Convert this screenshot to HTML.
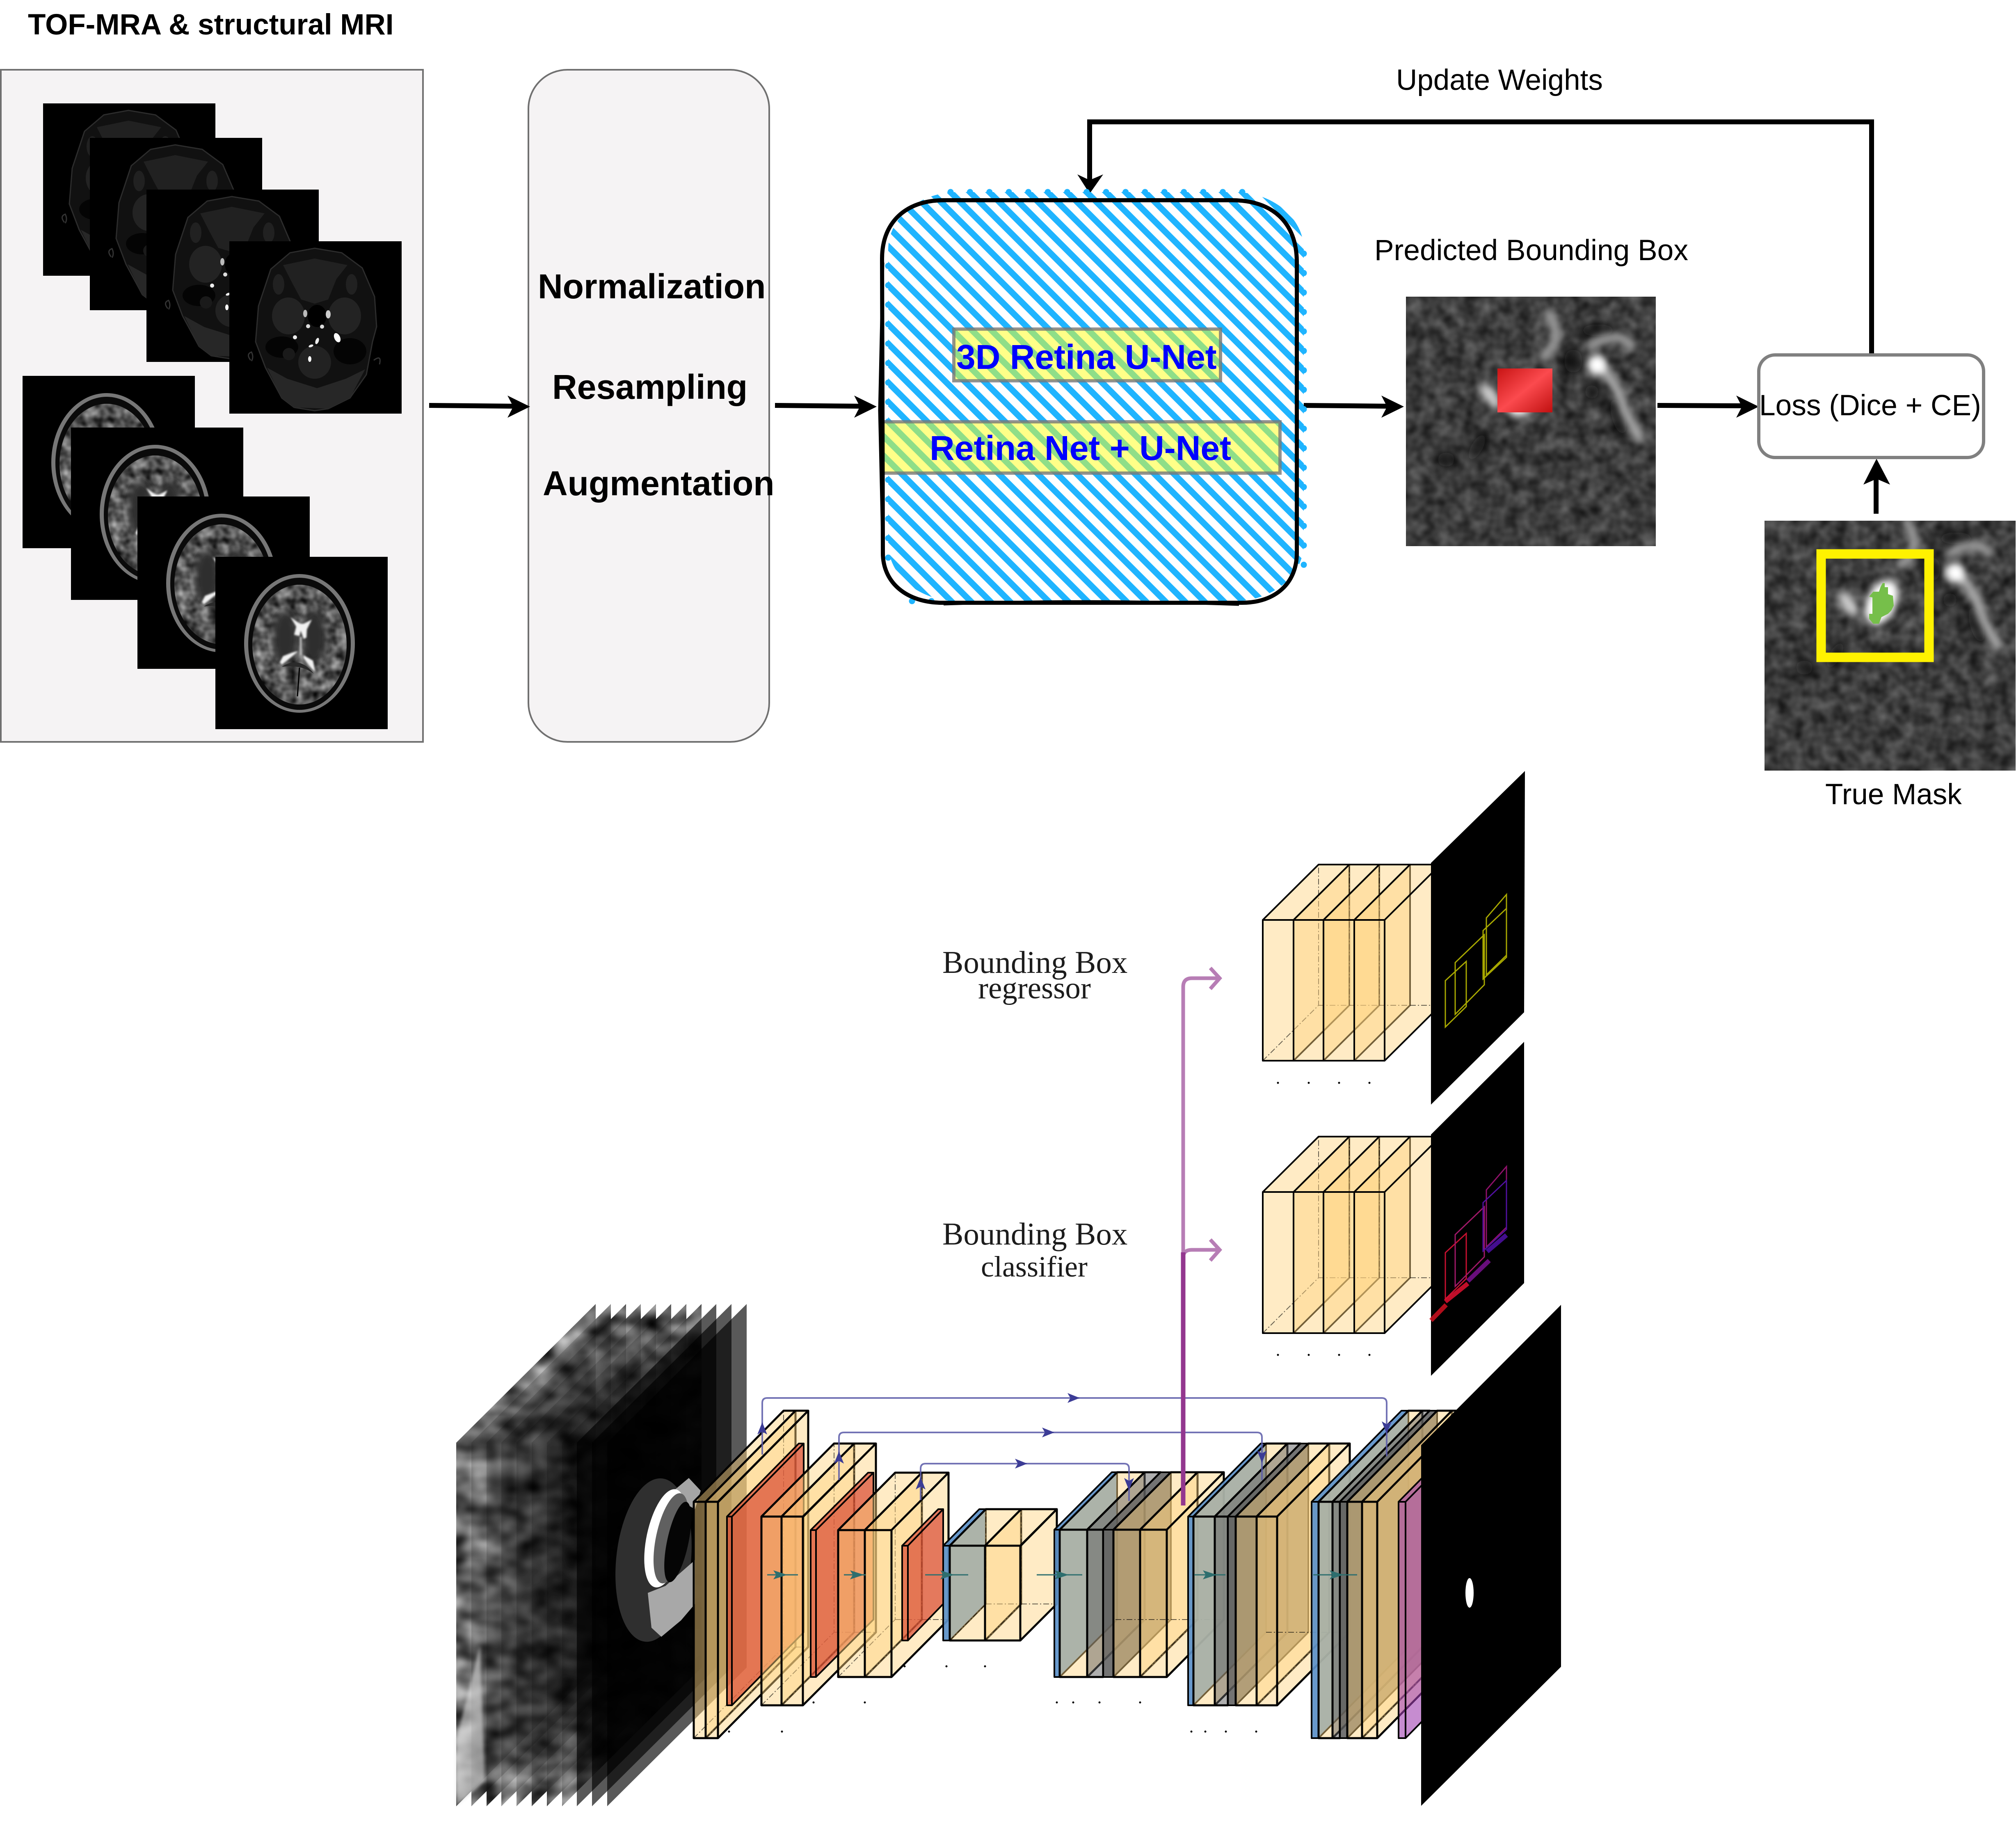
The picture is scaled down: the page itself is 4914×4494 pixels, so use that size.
<!DOCTYPE html>
<html>
<head>
<meta charset="utf-8">
<style>
html,body{margin:0;padding:0;background:#fff}
svg{display:block}
.s{font-family:"Liberation Sans",sans-serif}
.b{font-family:"Liberation Sans",sans-serif;font-weight:bold}
.t{font-family:"Liberation Serif",serif;fill:#1c1c1c}
.c{fill:#ffd27f;fill-opacity:.45;stroke:#000;stroke-width:5;stroke-linejoin:round}
.c3{fill:#ffd27f;fill-opacity:.45;stroke:#000;stroke-width:4;stroke-linejoin:round}
.r{fill:#d84830;fill-opacity:.7;stroke:#000;stroke-width:4;stroke-linejoin:round}
.u{fill:#5b90c8;fill-opacity:.92;stroke:#000;stroke-width:4;stroke-linejoin:round}
.g{fill:#5f5f5f;fill-opacity:.5;stroke:#000;stroke-width:5;stroke-linejoin:round}
.d{fill:#5a5a5a;fill-opacity:.85;stroke:#000;stroke-width:4;stroke-linejoin:round}
.p{fill:#a040b0;fill-opacity:.6;stroke:#000;stroke-width:4;stroke-linejoin:round}
.h{fill:none;stroke:#000;stroke-width:2;stroke-opacity:.6;stroke-dasharray:14 5 3 5}
.sk{fill:none;stroke:#5a5aa8;stroke-opacity:.85;stroke-width:4}
.te{stroke:#2d6e6e;stroke-width:3}
.dot{stroke:#000;stroke-width:5;stroke-linecap:round;fill:none}
</style>
</head>
<body>
<svg xmlns="http://www.w3.org/2000/svg" width="4914" height="4494" viewBox="0 0 4914 4494">
<defs>
  <pattern id="hb" patternUnits="userSpaceOnUse" width="100" height="33.52" patternTransform="rotate(45)">
    <rect width="100" height="33.52" fill="#fff"/>
    <rect width="100" height="7.5" fill="#1fb4ff"/><rect y="26.02" width="100" height="7.5" fill="#1fb4ff"/>
  </pattern>
  <pattern id="hy" patternUnits="userSpaceOnUse" width="100" height="33.52" patternTransform="rotate(45)">
    <rect width="100" height="33.52" fill="#ffff88"/>
    <rect width="100" height="7.5" fill="#8fde88"/><rect y="26.02" width="100" height="7.5" fill="#8fde88"/>
  </pattern>
  <clipPath id="hc"><rect x="2165" y="468" width="1013" height="997" rx="170" ry="140"/></clipPath>
  <clipPath id="cp"><rect x="3427" y="723" width="609" height="608"/></clipPath>
  <clipPath id="ct"><rect x="4301" y="1269" width="612" height="609"/></clipPath>
  <clipPath id="st">
    <polygon points="1112,3516 1452,3178 1452,4064 1112,4402"/>
    <polygon points="1149,3516 1489,3178 1489,4064 1149,4402"/>
    <polygon points="1186,3516 1526,3178 1526,4064 1186,4402"/>
    <polygon points="1222,3516 1562,3178 1562,4064 1222,4402"/>
    <polygon points="1259,3516 1599,3178 1599,4064 1259,4402"/>
    <polygon points="1296,3516 1636,3178 1636,4064 1296,4402"/>
    <polygon points="1333,3516 1673,3178 1673,4064 1333,4402"/>
    <polygon points="1370,3516 1710,3178 1710,4064 1370,4402"/>
  </clipPath>
  <filter id="ns" x="0" y="0" width="1" height="1" color-interpolation-filters="sRGB">
    <feTurbulence type="fractalNoise" baseFrequency=".03" numOctaves="2" seed="5"/>
    <feColorMatrix values=".4 0 0 0 .04  .4 0 0 0 .04  .4 0 0 0 .04  0 0 0 0 1"/>
  </filter>
  <filter id="ns2" x="0" y="0" width="1" height="1" color-interpolation-filters="sRGB">
    <feTurbulence type="fractalNoise" baseFrequency=".014 .02" numOctaves="2" seed="9"/>
    <feColorMatrix values="1.3 0 0 0 -.15  1.3 0 0 0 -.15  1.3 0 0 0 -.15  0 0 0 0 1"/>
  </filter>
  <filter id="br" x="0" y="0" width="1" height="1" color-interpolation-filters="sRGB">
    <feTurbulence type="fractalNoise" baseFrequency=".04" numOctaves="2" seed="3"/>
    <feColorMatrix values=".9 0 0 0 -.1  .9 0 0 0 -.1  .9 0 0 0 -.1  0 0 0 0 1"/>
    <feComposite in2="SourceGraphic" operator="in"/>
  </filter>
  <filter id="b9" x="-50%" y="-50%" width="200%" height="200%"><feGaussianBlur stdDeviation="9"/></filter>
  <filter id="b4"><feGaussianBlur stdDeviation="4"/></filter>
  <filter id="b2"><feGaussianBlur stdDeviation="2"/></filter>
  <filter id="b14" x="-30%" y="-30%" width="160%" height="160%"><feGaussianBlur stdDeviation="14"/></filter>

  <g id="tof">
    <rect width="420" height="420" fill="#000"/>
    <path d="M208 17 L274 28 L324 65 L354 135 L359 208 L349 245 L334 325 L294 382 L241 408 L208 413 L158 405 L128 382 L88 308 L64 245 L71 158 L101 68 L148 28Z" fill="#111" stroke="#2c2c2c" stroke-width="3"/>
    <path d="M131 58 L208 42 L288 58 L261 92 L241 142 L208 152 L175 142 L155 105Z" fill="#212121"/>
    <ellipse cx="120" cy="105" rx="14" ry="25" fill="#212121"/><ellipse cx="298" cy="105" rx="14" ry="25" fill="#212121"/>
    <ellipse cx="144" cy="182" rx="40" ry="45" fill="#232323"/><ellipse cx="281" cy="182" rx="40" ry="45" fill="#232323"/>
    <ellipse cx="128" cy="258" rx="40" ry="26" fill="#040404"/><ellipse cx="294" cy="268" rx="40" ry="32" fill="#040404"/>
    <ellipse cx="208" cy="295" rx="40" ry="40" fill="#222"/>
    <ellipse cx="145" cy="275" rx="15" ry="15" fill="#1a1a1a"/>
    <path d="M92 308 L141 335 L214 358 L284 335 L331 312 L294 382 L241 408 L158 405 L128 382Z" fill="#272727"/>
    <ellipse cx="214" cy="182" rx="23" ry="27" fill="#000"/>
    <path d="M52 290 q-12 -15 2 -20 q6 12 0 22 M352 290 q20 -15 14 10" fill="none" stroke="#333" stroke-width="3"/>
    <ellipse cx="185" cy="176" rx="5" ry="9" fill="#bbb"/><ellipse cx="241" cy="178" rx="6" ry="10" fill="#ccc"/>
    <circle cx="192" cy="207" r="5" fill="#ddd"/><circle cx="226" cy="208" r="5" fill="#ddd"/>
    <circle cx="160" cy="234" r="5" fill="#eee"/><ellipse cx="263" cy="235" rx="7" ry="12" transform="rotate(-25 263 235)" fill="#fff"/>
    <ellipse cx="214" cy="243" rx="4" ry="8" transform="rotate(20 214 243)" fill="#eee"/>
    <ellipse cx="199" cy="255" rx="6" ry="3" transform="rotate(-20 199 255)" fill="#eee"/>
    <ellipse cx="196" cy="287" rx="4" ry="7" fill="#fff"/>
  </g>

  <g id="t2">
    <rect width="420" height="420" fill="#000"/>
    <ellipse cx="205" cy="211" rx="135" ry="169" fill="#777"/>
    <ellipse cx="205" cy="212" rx="125" ry="161" fill="#0a0a0a"/>
    <ellipse cx="205" cy="214" rx="115" ry="146" fill="#5a5a5a" filter="url(#br)"/>
    <g filter="url(#b9)"><ellipse cx="170" cy="195" rx="30" ry="65" fill="#2e2e2e"/><ellipse cx="240" cy="195" rx="30" ry="65" fill="#2e2e2e"/></g>
    <g filter="url(#b2)" fill="#f2f2f2">
      <polygon points="183,147 202,160 208,163 215,163 235,153 223,177 222,197 215,200 208,180 205,193 192,190 197,170"/>
      <polygon points="202,230 188,242 162,263 157,257 165,242 188,233"/>
      <polygon points="215,240 238,253 243,280 235,273 215,247"/>
      <path d="M208 195 V240" stroke="#bbb" stroke-width="5" fill="none"/>
    </g>
    <path d="M162 268 Q205 240 240 285 Q210 262 162 268Z" fill="#2a2a2a"/>
    <path d="M205 270 L200 340" stroke="#000" stroke-width="3"/>
  </g>

  <g id="ves">
    <g filter="url(#b14)" fill="#0e0e0e">
      <ellipse cx="3895" cy="805" rx="45" ry="15"/><ellipse cx="3835" cy="880" rx="22" ry="30"/>
      <ellipse cx="3945" cy="1015" rx="16" ry="50" transform="rotate(-15 3945 1015)"/><ellipse cx="3880" cy="955" rx="18" ry="18"/>
      <ellipse cx="3525" cy="1120" rx="22" ry="18"/><ellipse cx="3600" cy="1090" rx="14" ry="40" transform="rotate(30 3600 1090)"/>
    </g>
    <g filter="url(#b9)" fill="none" stroke-linecap="round">
      <path d="M3775 765 Q3815 830 3762 868" stroke="#9a9a9a" stroke-width="24"/>
      <path d="M3905 898 Q3945 940 3960 1000 L3995 1066" stroke="#aaa" stroke-width="24"/>
      <path d="M3880 842 Q3920 815 3960 826 L3975 842" stroke="#999" stroke-width="24"/>
      <circle cx="3893" cy="889" r="24" fill="#fff"/>
      <ellipse cx="3713" cy="961" rx="36" ry="58" transform="rotate(25 3713 961)" fill="#fff"/>
      <ellipse cx="3633" cy="965" rx="16" ry="36" transform="rotate(-35 3633 965)" fill="#ccc"/>
    </g>
  </g>
  <linearGradient id="rd" x1="0" y1="0" x2="1" y2="1">
    <stop offset="0" stop-color="#c81414"/><stop offset=".5" stop-color="#fb4a4e"/><stop offset="1" stop-color="#c01010"/>
  </linearGradient>
  <polygon id="sh" points="16,0 -14,-12 -7,0 -14,12" fill="#3c3c96"/>
  <polygon id="th" points="20,0 -14,-11 -7,0 -14,11" fill="#2d6e6e"/>
</defs>

<rect width="4914" height="4494" fill="#fff"/>

<text class="b" x="68" y="84" font-size="71">TOF-MRA &amp; structural MRI</text>

<rect x="2" y="170" width="1029" height="1638" fill="#f5f3f4" stroke="#707070" stroke-width="4"/>
<use href="#tof" x="105" y="252"/><use href="#tof" x="219" y="336"/><use href="#tof" x="357" y="462"/><use href="#tof" x="559" y="588"/>
<use href="#t2" x="55" y="916"/><use href="#t2" x="173" y="1042"/><use href="#t2" x="335" y="1210"/><use href="#t2" x="525" y="1357"/>

<rect x="1288" y="170" width="587" height="1638" rx="95" ry="95" fill="#f5f3f4" stroke="#707070" stroke-width="4"/>
<text class="b" x="1311" y="727" font-size="84">Normalization</text>
<text class="b" x="1346" y="972" font-size="84">Resampling</text>
<text class="b" x="1323" y="1207" font-size="84">Augmentation</text>

<g fill="none" stroke="#000" stroke-width="12">
  <path d="M1046 988 L1260 990"/><path d="M1889 988 L2105 990"/><path d="M3176 988 L3390 990"/><path d="M4040 988 L4255 989"/>
  <path d="M4573 1252 V1150"/>
  <path d="M4562 865 V297 H2656 V440"/>
</g>
<g fill="#000">
  <polygon points="1292,991 1237,964 1251,991 1237,1018"/>
  <polygon points="2137,991 2082,964 2096,991 2082,1018"/>
  <polygon points="3422,991 3367,964 3381,991 3367,1018"/>
  <polygon points="4287,991 4232,964 4246,991 4232,1018"/>
  <polygon points="4574,1118 4542,1181 4574,1167 4607,1181"/>
  <polygon points="2656,472 2626,425 2656,439 2689,425"/>
</g>

<!-- hatched box -->
<rect x="2100" y="440" width="1120" height="1060" fill="url(#hb)" clip-path="url(#hc)"/>
<g fill="none" stroke="#1fb4ff" stroke-width="15" stroke-linecap="round">
  <path d="M2317 468 H3040" stroke-dasharray="0.01 47.39"/>
  <path d="M2165 648 V1370" stroke-dasharray="0.01 47.39"/>
  <path d="M3178 618 V1380" stroke-dasharray="0.01 47.39"/>
  <path d="M2223 1465 H2990" stroke-dasharray="0.01 47.39"/>
</g>
<rect x="2325" y="802" width="650" height="126" fill="url(#hy)" stroke="#777" stroke-opacity=".8" stroke-width="8"/>
<rect x="2152" y="1028" width="968" height="125" fill="url(#hy)" stroke="#777" stroke-opacity=".8" stroke-width="8"/>
<path d="M2150 630 C2150 540 2210 488 2300 488 H3003 C3100 488 3161 540 3161 640 V1348 C3161 1420 3110 1469 3027 1469 H2297 C2210 1469 2152 1420 2152 1348 Z" fill="none" stroke="#000" stroke-width="10"/>
<path d="M2152 640 L2144 1000 L2152 1350 M2300 1472 Q2650 1460 3020 1473" fill="none" stroke="#000" stroke-width="7"/>
<text class="b" x="2331" y="899" font-size="84" fill="#0000ff">3D Retina U-Net</text>
<text class="b" x="2266" y="1121" font-size="84" fill="#0000ff">Retina Net + U-Net</text>

<text class="s" x="3403" y="219" font-size="71">Update Weights</text>
<text class="s" x="3350" y="634" font-size="71.3">Predicted Bounding Box</text>
<text class="s" x="4449" y="1960" font-size="71">True Mask</text>

<!-- prediction image -->
<g clip-path="url(#cp)">
  <rect x="3427" y="723" width="609" height="608" filter="url(#ns)"/>
  <use href="#ves"/>
</g>
<rect x="3650" y="898" width="134" height="107" fill="url(#rd)"/>

<!-- ground truth image -->
<g clip-path="url(#ct)">
  <rect x="4301" y="1269" width="613" height="611" filter="url(#ns)"/>
  <use href="#ves" transform="translate(873,507)"/>
</g>
<polygon fill="#76bf4a" points="4589,1421 4594,1421 4594,1431 4602,1431 4602,1448 4614,1452 4616,1476 4610,1488 4602,1496 4586,1504 4580,1520 4566,1520 4556,1508 4556,1496 4564,1496 4564,1456 4556,1454 4566,1442 4580,1442 4584,1430"/>
<rect x="4439" y="1350" width="263" height="252" fill="none" stroke="#fff200" stroke-width="23"/>

<rect x="4287" y="865" width="548" height="250" rx="40" ry="40" fill="#fff" stroke="#808080" stroke-width="8"/>
<text class="s" x="4288" y="1012" font-size="71.3">Loss (Dice + CE)</text>

<!-- labels lower -->
<text class="t" x="2297" y="2371" font-size="77">Bounding Box</text>
<text class="t" x="2384" y="2433" font-size="75">regressor</text>
<text class="t" x="2391" y="3111" font-size="72">classifier</text>
<text class="t" x="2297" y="3033" font-size="77">Bounding Box</text>

<!-- cubes 1 -->
<g>
  <path class="c3" d="M3078 2242 H3153 V2585 H3078 Z M3078 2242 l136 -135 h75 l-136 135 Z M3153 2242 l136 -135 v343 l-136 135 Z"/>
  <path class="h" d="M3078 2585 l136 -135 v-343 M3214 2450 h75"/>
  <path class="c3" d="M3153 2242 H3226 V2585 H3153 Z M3153 2242 l136 -135 h73 l-136 135 Z M3226 2242 l136 -135 v343 l-136 135 Z"/>
  <path class="h" d="M3289 2450 v-343 M3289 2450 h73"/>
  <path class="c3" d="M3226 2242 H3301 V2585 H3226 Z M3226 2242 l136 -135 h75 l-136 135 Z M3301 2242 l136 -135 v343 l-136 135 Z"/>
  <path class="h" d="M3362 2450 v-343 M3362 2450 h75"/>
  <path class="c3" d="M3301 2242 H3375 V2585 H3301 Z M3301 2242 l136 -135 h74 l-136 135 Z M3375 2242 l136 -135 v343 l-136 135 Z"/>
  <path class="h" d="M3437 2450 h74"/>
</g>
<!-- cubes 2 -->
<g>
  <path class="c3" d="M3078 2905 H3153 V3249 H3078 Z M3078 2905 l136 -135 h75 l-136 135 Z M3153 2905 l136 -135 v344 l-136 135 Z"/>
  <path class="h" d="M3078 3249 l136 -135 v-344 M3214 3114 h75"/>
  <path class="c3" d="M3153 2905 H3226 V3249 H3153 Z M3153 2905 l136 -135 h73 l-136 135 Z M3226 2905 l136 -135 v344 l-136 135 Z"/>
  <path class="h" d="M3289 3114 v-344 M3289 3114 h73"/>
  <path class="c3" d="M3226 2905 H3301 V3249 H3226 Z M3226 2905 l136 -135 h75 l-136 135 Z M3301 2905 l136 -135 v344 l-136 135 Z"/>
  <path class="h" d="M3362 3114 v-344 M3362 3114 h75"/>
  <path class="c3" d="M3301 2905 H3375 V3249 H3301 Z M3301 2905 l136 -135 h74 l-136 135 Z M3375 2905 l136 -135 v344 l-136 135 Z"/>
  <path class="h" d="M3437 3114 h74"/>
</g>
<path class="dot" d="M3115 2639h0M3190 2639h0M3264 2639h0M3338 2639h0M3115 3302h0M3190 3302h0M3264 3302h0M3338 3302h0"/>

<!-- panels -->
<polygon points="3488,2103 3717,1879 3715,2467 3488,2692" fill="#000"/>
<g fill="none" stroke="#a8a800" stroke-width="3">
  <polygon points="3523,2390 3574,2343 3574,2453 3523,2503"/>
  <polygon points="3547,2346 3618,2278 3618,2400 3547,2472"/>
  <polygon points="3623,2237 3672,2180 3672,2328 3623,2376"/>
  <polygon points="3615,2268 3672,2214 3672,2333 3615,2386"/>
</g>
<polygon points="3488,2765 3715,2539 3715,3127 3488,3353" fill="#000"/>
<g fill="none" stroke-width="3">
  <polygon stroke="#c81030" points="3523,3053 3574,3006 3574,3116 3523,3166"/>
  <polygon stroke="#a01868" points="3547,3009 3618,2941 3618,3063 3547,3135"/>
  <polygon stroke="#90106a" points="3623,2900 3672,2843 3672,2991 3623,3039"/>
  <polygon stroke="#5010a0" points="3615,2931 3672,2877 3672,2996 3615,3049"/>
</g>
<g fill="none" stroke-width="11" stroke-opacity=".85">
  <path d="M3488 3218 L3525 3180" stroke="#d01020"/>
  <path d="M3523 3172 L3578 3128" stroke="#e01030"/>
  <path d="M3578 3122 L3630 3072" stroke="#7a1090"/>
  <path d="M3625 3050 L3672 3010" stroke="#5010a8"/>
</g>

<!-- CT stack -->
<g clip-path="url(#st)">
  <rect x="1100" y="3170" width="640" height="1240" filter="url(#ns2)"/>
</g>
<g fill="#000" fill-opacity=".16">
  <polygon points="1112,3516 1452,3178 1452,4064 1112,4402"/>
  <polygon points="1149,3516 1489,3178 1489,4064 1149,4402"/>
  <polygon points="1186,3516 1526,3178 1526,4064 1186,4402"/>
  <polygon points="1222,3516 1562,3178 1562,4064 1222,4402"/>
  <polygon points="1259,3516 1599,3178 1599,4064 1259,4402"/>
  <polygon points="1296,3516 1636,3178 1636,4064 1296,4402"/>
  <polygon points="1333,3516 1673,3178 1673,4064 1333,4402"/>
  <polygon points="1370,3516 1710,3178 1710,4064 1370,4402"/>
</g>
<polygon points="1112,4402 1112,4240 1170,4010 1182,4340" fill="#ddd" fill-opacity=".6" filter="url(#b4)"/>
<g fill="#000" fill-opacity=".65">
  <polygon points="1406,3516 1746,3178 1746,4064 1406,4402"/>
  <polygon points="1443,3516 1783,3178 1783,4064 1443,4402"/>
  <polygon points="1480,3516 1820,3178 1820,4064 1480,4402"/>
</g>
<!-- ring -->
<ellipse cx="1593" cy="3802" rx="91" ry="200" fill="#2f2f2f" transform="rotate(6 1593 3802)"/>
<polygon points="1579,3882 1622,3865 1694,3802 1694,3909 1660,3949 1612,3989 1588,3967" fill="#a8a8a8"/>
<polygon points="1631,3642 1679,3602 1708,3633 1694,3678" fill="#a5a5a5"/>
<ellipse cx="1622" cy="3749" rx="46" ry="122" transform="rotate(12 1622 3749)" fill="#fff"/>
<ellipse cx="1636" cy="3749" rx="37" ry="112" transform="rotate(12 1636 3749)" fill="#606060"/>
<ellipse cx="1652" cy="3758" rx="26" ry="100" transform="rotate(12 1652 3758)" fill="#050505"/>

<!-- U-Net slabs -->
<path class="c" d="M1691 3660 H1720 V4236 H1691 Z M1691 3660 l219 -222 h29 l-219 222 Z M1720 3660 l219 -222 v576 l-219 222 Z"/>
<path class="h" d="M1691 4236 l219 -222 v-576 M1910 4014 h29"/>
<path class="c" d="M1720 3660 H1750 V4236 H1720 Z M1720 3660 l219 -222 h31 l-219 222 Z M1750 3660 l220 -222 v576 l-220 222 Z"/>
<path class="h" d="M1720 4236 l219 -222 M1939 4014 h31"/>
<path class="r" d="M1772 3696 H1784 V4156 H1772 Z M1772 3696 l175 -178 h12 l-175 178 Z M1784 3696 l175 -178 v460 l-175 178 Z"/>
<path class="c" d="M1856 3696 H1905 V4156 H1856 Z M1856 3696 l177 -178 h49 l-177 178 Z M1905 3696 l177 -178 v460 l-177 178 Z"/>
<path class="h" d="M1856 4156 l177 -178 v-460 M2033 3978 h49"/>
<path class="c" d="M1905 3696 H1957 V4156 H1905 Z M1905 3696 l177 -178 h53 l-177 178 Z M1957 3696 l178 -178 v460 l-178 178 Z"/>
<path class="h" d="M1905 4156 l177 -178 v-460 M2082 3978 h53"/>
<path class="r" d="M1976 3729 H1989 V4087 H1976 Z M1976 3729 l140 -140 h13 l-140 140 Z M1989 3729 l140 -140 v358 l-140 140 Z"/>
<path class="c" d="M2043 3729 H2108 V4087 H2043 Z M2043 3729 l139 -140 h65 l-139 140 Z M2108 3729 l139 -140 v358 l-139 140 Z"/>
<path class="h" d="M2043 4087 l139 -140 v-358 M2182 3947 h65"/>
<path class="c" d="M2108 3729 H2173 V4087 H2108 Z M2108 3729 l139 -140 h65 l-139 140 Z M2173 3729 l139 -140 v358 l-139 140 Z"/>
<path class="h" d="M2108 4087 l139 -140 v-358 M2247 3947 h65"/>
<path class="r" d="M2199 3767 H2213 V3998 H2199 Z M2199 3767 l88 -89 h12 l-86 89 Z M2213 3767 l86 -89 v231 l-86 89 Z"/>
<path class="u" d="M2299 3767 H2315 V3998 H2299 Z M2299 3767 l88 -89 h16 l-88 89 Z M2315 3767 l88 -89 v231 l-88 89 Z"/>
<path class="c" d="M2315 3767 H2401 V3998 H2315 Z M2315 3767 l88 -89 h86 l-88 89 Z M2401 3767 l88 -89 v231 l-88 89 Z"/>
<path class="h" d="M2315 3998 l88 -89 v-231 M2403 3909 h86"/>
<path class="c" d="M2401 3767 H2487 V3998 H2401 Z M2401 3767 l88 -89 h87 l-88 89 Z M2487 3767 l89 -89 v231 l-89 89 Z"/>
<path class="h" d="M2401 3998 l88 -89 v-231 M2489 3909 h87"/>

<!-- E -->
<path class="u" d="M2570 3728 H2583 V4087 H2570 Z M2570 3728 l140 -140 h13 l-140 140 Z M2583 3728 l140 -140 v359 l-140 140 Z"/>
<path class="c" d="M2583 3728 H2650 V4087 H2583 Z M2583 3728 l140 -140 h67 l-140 140 Z M2650 3728 l140 -140 v359 l-140 140 Z"/>
<path class="g" d="M2650 3728 H2689 V4087 H2650 Z M2650 3728 l140 -140 h39 l-140 140 Z"/>
<path class="d" d="M2689 3728 H2714 V4087 H2689 Z M2689 3728 l140 -140 h25 l-140 140 Z M2714 3728 l140 -140 v359 l-140 140 Z"/>
<path class="c" d="M2714 3728 H2779 V4087 H2714 Z M2714 3728 l140 -140 h65 l-140 140 Z M2779 3728 l140 -140 v359 l-140 140 Z"/>
<path class="c" d="M2779 3728 H2844 V4087 H2779 Z M2779 3728 l140 -140 h64 l-139 140 Z M2844 3728 l139 -140 v359 l-139 140 Z"/>
<path class="h" d="M2719 3947 h264 M2779 4087 l140 -140"/>

<!-- F -->
<path class="u" d="M2896 3696 H2909 V4156 H2896 Z M2896 3696 l177 -178 h13 l-177 178 Z M2909 3696 l177 -178 v460 l-177 178 Z"/>
<path class="c" d="M2909 3696 H2961 V4156 H2909 Z M2909 3696 l177 -178 h52 l-177 178 Z M2961 3696 l177 -178 v460 l-177 178 Z"/>
<path class="g" d="M2961 3696 H2993 V4156 H2961 Z M2961 3696 l177 -178 h32 l-177 178 Z"/>
<path class="d" d="M2993 3696 H3012 V4156 H2993 Z M2993 3696 l177 -178 h19 l-177 178 Z M3012 3696 l177 -178 v460 l-177 178 Z"/>
<path class="c" d="M3012 3696 H3063 V4156 H3012 Z M3012 3696 l177 -178 h51 l-177 178 Z M3063 3696 l177 -178 v460 l-177 178 Z"/>
<path class="c" d="M3063 3696 H3113 V4156 H3063 Z M3063 3696 l177 -178 h50 l-177 178 Z M3113 3696 l177 -178 v460 l-177 178 Z"/>
<path class="h" d="M3086 3978 h204 M3063 4156 l177 -178"/>

<!-- G -->
<path class="u" d="M3197 3660 H3214 V4236 H3197 Z M3197 3660 l219 -222 h17 l-219 222 Z M3214 3660 l219 -222 v576 l-219 222 Z"/>
<path class="c" d="M3214 3660 H3248 V4236 H3214 Z M3214 3660 l219 -222 h34 l-219 222 Z M3248 3660 l219 -222 v576 l-219 222 Z"/>
<path class="g" d="M3248 3660 H3266 V4236 H3248 Z M3248 3660 l219 -222 h18 l-219 222 Z"/>
<path class="d" d="M3266 3660 H3284 V4236 H3266 Z M3266 3660 l219 -222 h18 l-219 222 Z M3284 3660 l219 -222 v576 l-219 222 Z"/>
<path class="c" d="M3284 3660 H3320 V4236 H3284 Z M3284 3660 l219 -222 h36 l-219 222 Z M3320 3660 l219 -222 v576 l-219 222 Z"/>
<path class="c" d="M3320 3660 H3357 V4236 H3320 Z M3320 3660 l219 -222 h37 l-219 222 Z M3357 3660 l219 -222 v576 l-219 222 Z"/>
<path class="h" d="M3320 4236 l219 -222"/>
<path class="p" d="M3409 3660 H3426 V4236 H3409 Z M3409 3660 l219 -222 h17 l-219 222 Z M3426 3660 l219 -222 v576 l-219 222 Z"/>

<!-- dots -->
<path class="dot" d="M1777 4220h0M1906 4220h0M1983 4149h0M2108 4149h0M2205 4061h0M2307 4061h0M2401 4061h0M2576 4149h0M2616 4149h0M2680 4149h0M2779 4149h0M2904 4220h0M2938 4220h0M2988 4220h0M3062 4220h0"/>

<!-- skip connections -->
<path class="sk" d="M1858 3545 V3419 Q1858 3407 1870 3407 H3368 Q3380 3407 3380 3419 V3549"/>
<path class="sk" d="M2045 3607 V3503 Q2045 3491 2057 3491 H3064 Q3076 3491 3076 3503 V3607"/>
<path class="sk" d="M2244 3656 V3579 Q2244 3567 2256 3567 H2740 Q2752 3567 2752 3579 V3658"/>
<use href="#sh" transform="translate(2616,3407)"/><use href="#sh" transform="translate(2554,3491)"/><use href="#sh" transform="translate(2488,3567)"/>
<use href="#sh" transform="translate(1858,3482) rotate(-90)"/><use href="#sh" transform="translate(2045,3553) rotate(-90)"/><use href="#sh" transform="translate(2244,3616) rotate(-90)"/>
<use href="#sh" transform="translate(3380,3478) rotate(90)"/><use href="#sh" transform="translate(3076,3549) rotate(90)"/><use href="#sh" transform="translate(2752,3616) rotate(90)"/>

<!-- teal arrows -->
<path class="te" d="M1870 3838H1945M2057 3838H2110M2255 3838H2360M2527 3838H2638M2911 3838H2987M3201 3838H3308"/>
<use href="#th" transform="translate(1899,3838)"/><use href="#th" transform="translate(2086,3838)"/><use href="#th" transform="translate(2306,3838)"/>
<use href="#th" transform="translate(2585,3838)"/><use href="#th" transform="translate(2946,3838)"/><use href="#th" transform="translate(3255,3838)"/>

<!-- purple branch -->
<path d="M2884 3060 V2405 Q2884 2384 2905 2384 H2970" fill="none" stroke="#b77db5" stroke-width="9"/>
<path d="M2884 3065 Q2884 3046 2905 3046 H2970" fill="none" stroke="#b77db5" stroke-width="9"/>
<path d="M2950 2359 L2973 2384 L2950 2410 M2950 3021 L2973 3046 L2950 3072" fill="none" stroke="#b77db5" stroke-width="9"/>
<path d="M2884 3052 V3669" fill="none" stroke="#93378f" stroke-width="11"/>

<!-- output mask -->
<polygon points="3464,3522 3805,3180 3805,4062 3464,4401" fill="#000"/>
<ellipse cx="3582" cy="3882" rx="10" ry="36" fill="#fff"/>
</svg>
</body>
</html>
